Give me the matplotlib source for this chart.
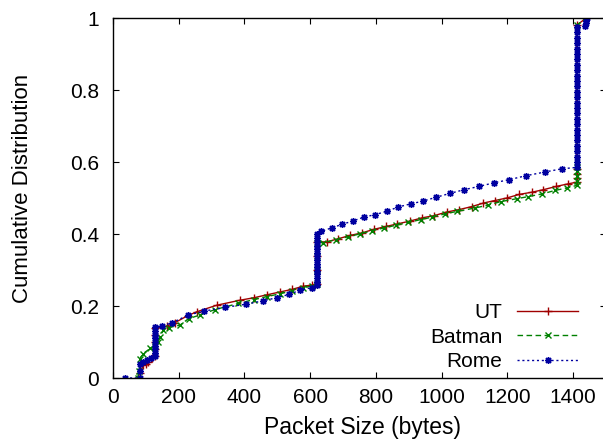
import matplotlib
matplotlib.use("Agg")
import matplotlib.pyplot as plt
from matplotlib.ticker import FuncFormatter

# CDF of packet sizes for the three traces (bytes, cumulative fraction)
ut_x = [75, 82, 92, 100, 108, 118, 128, 128, 128, 128, 128,
        163, 189, 227, 255, 315, 386, 429, 468, 508, 544, 579, 605,
        620, 620, 620, 620,
        650, 686, 721, 757, 794, 831, 865, 904, 941, 977, 1015, 1054, 1091,
        1127, 1162, 1198, 1236, 1274, 1309, 1348, 1383,
        1411, 1411, 1411, 1411, 1411, 1440]
ut_y = [0.0, 0.015, 0.036, 0.04, 0.045, 0.055, 0.06, 0.08, 0.10, 0.12, 0.138,
        0.144, 0.154, 0.173, 0.184, 0.202, 0.216, 0.223, 0.231, 0.239, 0.246, 0.255, 0.258,
        0.262, 0.30, 0.34, 0.378,
        0.378, 0.387, 0.396, 0.403, 0.413, 0.421, 0.428, 0.436, 0.445, 0.451, 0.461, 0.468, 0.476,
        0.486, 0.493, 0.500, 0.510, 0.516, 0.523, 0.532, 0.539,
        0.544, 0.556, 0.568, 0.58, 0.98, 1.0]

batman_x = [75, 80, 82, 92, 113, 128, 137, 143, 153, 170, 204, 230, 265, 310, 381,
            429, 468, 508, 544, 579, 605,
            620, 620, 620, 620,
            640, 678, 714, 750, 788, 825, 860, 898, 936, 972, 1010, 1048, 1100,
            1140, 1180, 1228, 1264, 1304, 1345, 1381,
            1411, 1411, 1411, 1411, 1411, 1411, 1440]
batman_y = [0.0, 0.02, 0.054, 0.068, 0.082, 0.09, 0.10, 0.113, 0.133, 0.14, 0.147, 0.165, 0.175, 0.19, 0.207,
            0.218, 0.226, 0.234, 0.242, 0.25, 0.256,
            0.26, 0.30, 0.34, 0.376,
            0.376, 0.384, 0.392, 0.40, 0.409, 0.417, 0.424, 0.432, 0.44, 0.447, 0.456, 0.463, 0.472,
            0.48, 0.49, 0.498, 0.504, 0.511, 0.521, 0.528,
            0.535, 0.548, 0.561, 0.574, 0.587, 0.98, 1.0]

rome_x = [37, 82, 82, 82, 90, 102, 115,
          128, 128, 128, 128, 128, 128, 128, 128, 128,
          150, 179, 229, 278, 341, 404, 455, 498, 535, 569, 605,
          620, 620, 620, 620, 620, 620, 620, 620, 620, 620, 620, 620, 620, 620, 620,
          633, 665, 698, 729, 764, 798, 833, 868, 907, 942, 983, 1026, 1068,
          1113, 1158, 1206, 1257, 1313, 1365,
          1411, 1411, 1411, 1411, 1411, 1411, 1411, 1411, 1411, 1411, 1411, 1411, 1411,
          1411, 1411, 1411, 1411, 1411, 1411, 1411, 1411, 1411, 1411, 1411, 1411, 1411, 1411,
          1436, 1438, 1440, 1442]
rome_y = [0.0, 0.0, 0.02, 0.04, 0.045, 0.05, 0.055,
          0.06, 0.07, 0.08, 0.09, 0.10, 0.11, 0.12, 0.13, 0.141,
          0.145, 0.153, 0.175, 0.186, 0.196, 0.205, 0.214, 0.223, 0.232, 0.244, 0.251,
          0.258, 0.268, 0.278, 0.288, 0.298, 0.308, 0.318, 0.328, 0.338, 0.348, 0.358, 0.368, 0.378, 0.389, 0.40,
          0.407, 0.417, 0.427, 0.436, 0.447, 0.454, 0.463, 0.475, 0.484, 0.491, 0.502, 0.513, 0.523,
          0.532, 0.542, 0.551, 0.562, 0.572, 0.581,
          0.585, 0.60, 0.615, 0.63, 0.645, 0.66, 0.675, 0.69, 0.705, 0.72, 0.735, 0.75, 0.765,
          0.78, 0.795, 0.81, 0.825, 0.84, 0.855, 0.87, 0.885, 0.90, 0.915, 0.93, 0.945, 0.96, 0.975,
          0.978, 0.985, 0.992, 1.0]

x_ticks = [0, 200, 400, 600, 800, 1000, 1200, 1400]
y_ticks = [0, 0.2, 0.4, 0.6, 0.8, 1.0]

plt.rcParams["font.family"] = ["Liberation Sans", "DejaVu Sans"]

fig = plt.figure(figsize=(6.03, 4.46), dpi=100)
ax = fig.add_axes([113 / 603, 1 - 378 / 446, 493 / 603, 360 / 446])

ax.plot(ut_x, ut_y, color="#a00000", lw=1.0, ls="-", marker="+", ms=5.5, mew=1.0, label="UT")
ax.plot(batman_x, batman_y, color="#008000", lw=1.0, ls=(0, (4, 2.5)), marker="x", ms=4, mew=1.0,
        label="Batman")
ax.plot(rome_x, rome_y, color="#0000a0", lw=1.0, ls=(0, (1.5, 2)), marker=(8, 2, 0), ms=5, mew=1.0,
        label="Rome")

ax.set_xlim(0, 1500)
ax.set_ylim(0, 1)
ax.set_xticks(x_ticks)
ax.set_yticks(y_ticks)
ax.yaxis.set_major_formatter(FuncFormatter(lambda v, p: "%g" % v))
ax.tick_params(direction="in", length=4, width=0.8, top=True, right=True, labelsize=15)
ax.tick_params(axis="y", pad=10)
ax.tick_params(axis="x", pad=7)
for s in ax.spines.values():
    s.set_linewidth(1.0)

ax.set_xlabel("Packet Size (bytes)", fontsize=16.5)
ax.set_ylabel("Cumulative Distribution", fontsize=16)
ax.xaxis.set_label_coords(363 / 603, 1 - 416 / 446, transform=fig.transFigure)
ax.yaxis.set_label_coords(33 / 603, 1 - 188 / 446, transform=fig.transFigure)

ax.legend(loc="lower right", bbox_to_anchor=(0.943, 0.02), frameon=False, markerfirst=False,
          fontsize=15, handlelength=2.9, handletextpad=0.72, labelspacing=0.25, borderpad=0,
          borderaxespad=0, numpoints=1)

fig.savefig("out.png", dpi=100)
